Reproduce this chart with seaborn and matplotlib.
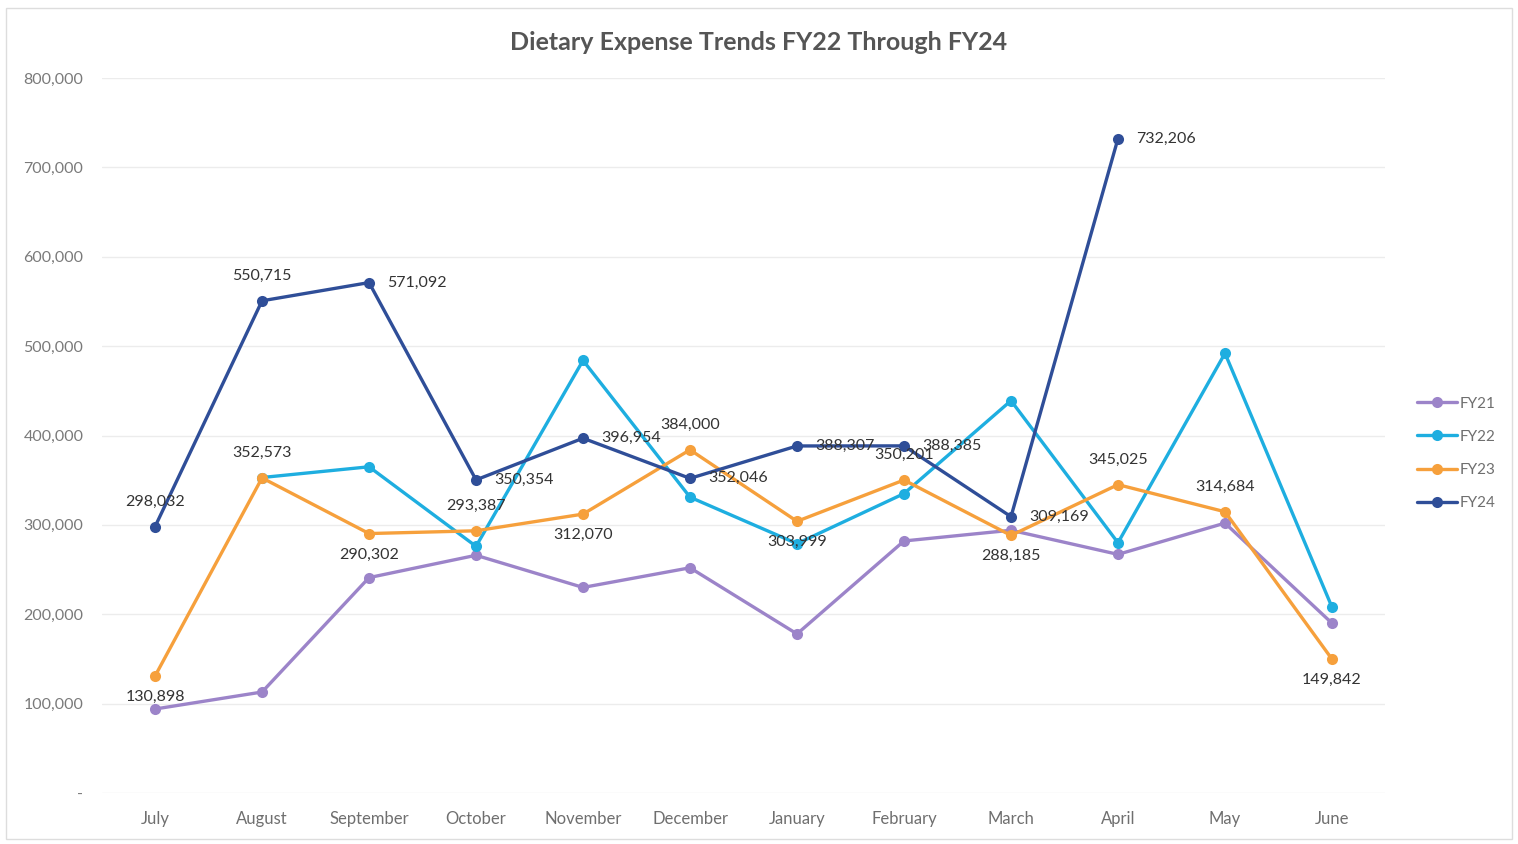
import matplotlib
matplotlib.use("Agg")
import matplotlib.pyplot as plt
import matplotlib.ticker as mticker
import numpy as np
import pandas as pd
import seaborn as sns

months = ["July", "August", "September", "October", "November", "December",
          "January", "February", "March", "April", "May", "June"]
years = ["FY21", "FY22", "FY23", "FY24"]

fy21 = [94000, 113000, 241000, 266000, 230000, 252000, 178000, 282000, 294000, 267000, 302000, 190000]
fy22 = [np.nan, 353000, 365000, 276000, 484000, 331000, 279000, 335000, 439000, 280000, 492000, 208000]
fy23 = [130898, 352573, 290302, 293387, 312070, 384000, 303999, 350201, 288185, 345025, 314684, 149842]
fy24 = [298032, 550715, 571092, 350354, 396954, 352046, 388307, 388385, 309169, 732206, np.nan, np.nan]

# which series carry data labels, and where they sit relative to the point
fy23_label_pos = ["below", "above", "below", "above", "below", "above",
                  "below", "above", "below", "above", "above", "below"]
fy24_label_pos = ["above", "above", "right", "right", "right", "right",
                  "right", "right", "right", "right", None, None]

palette = {"FY21": "#9c84c9", "FY22": "#1eaee0", "FY23": "#f6a03c", "FY24": "#2f4e98"}

df = pd.DataFrame({"month": months * 4,
                   "year": np.repeat(years, len(months)),
                   "value": fy21 + fy22 + fy23 + fy24}).dropna()

sns.set_style("white")
plt.rcParams["font.family"] = ["Lato", "DejaVu Sans"]

fig = plt.figure(figsize=(15.18, 8.44), dpi=100)
ax = fig.add_axes([0.0669, 0.0604, 0.8458, 0.8472])

sns.lineplot(data=df, x="month", y="value", hue="year", palette=palette,
             marker="o", markersize=8, markeredgewidth=0, linewidth=2.4,
             sort=False, ax=ax, legend=True)

ax.set_xlim(-0.5, 11.5)
ax.set_ylim(0, 800000)
ax.set_yticks(range(0, 800001, 100000))
ax.yaxis.set_major_formatter(mticker.FuncFormatter(lambda v, p: "-" if v == 0 else f"{int(v):,}"))
ax.grid(axis="y", color="#ececec", linewidth=1)
ax.set_axisbelow(True)
for s in ax.spines.values():
    s.set_visible(False)
ax.tick_params(axis="y", length=0, pad=13, labelsize=11.5, labelcolor="#7a7a7a")
ax.tick_params(axis="x", length=0, pad=13, labelsize=12, labelcolor="#6f6f6f")
ax.set_xlabel("")
ax.set_ylabel("")

offsets = {"above": (0, 13, "center", "bottom"),
           "below": (0, -10, "center", "top"),
           "right": (13, 0, "left", "center")}


def label_series(vals, positions):
    for i, (v, pos) in enumerate(zip(vals, positions)):
        if pos is None or np.isnan(v):
            continue
        dx, dy, ha, va = offsets[pos]
        ax.annotate(f"{int(v):,}", (i, v), xytext=(dx, dy), textcoords="offset points",
                    ha=ha, va=va, fontsize=11.5, color="#333333")


label_series(fy23, fy23_label_pos)
label_series(fy24, fy24_label_pos)

ax.legend(loc="center left", bbox_to_anchor=(1.014, 0.475), frameon=False,
          fontsize=11, labelcolor="#6f6f6f", handlelength=2.6, labelspacing=1.25,
          handletextpad=0.2)

fig.suptitle("Dietary Expense Trends FY22 Through FY24", x=0.5, y=0.963,
             fontsize=18, color="#555555", fontweight="bold")

fig.patches.append(plt.Rectangle((0.004, 0.006), 0.992, 0.985, transform=fig.transFigure,
                                 fill=False, edgecolor="#dddddd", linewidth=1))

fig.savefig("out.png", dpi=100, facecolor="white")
